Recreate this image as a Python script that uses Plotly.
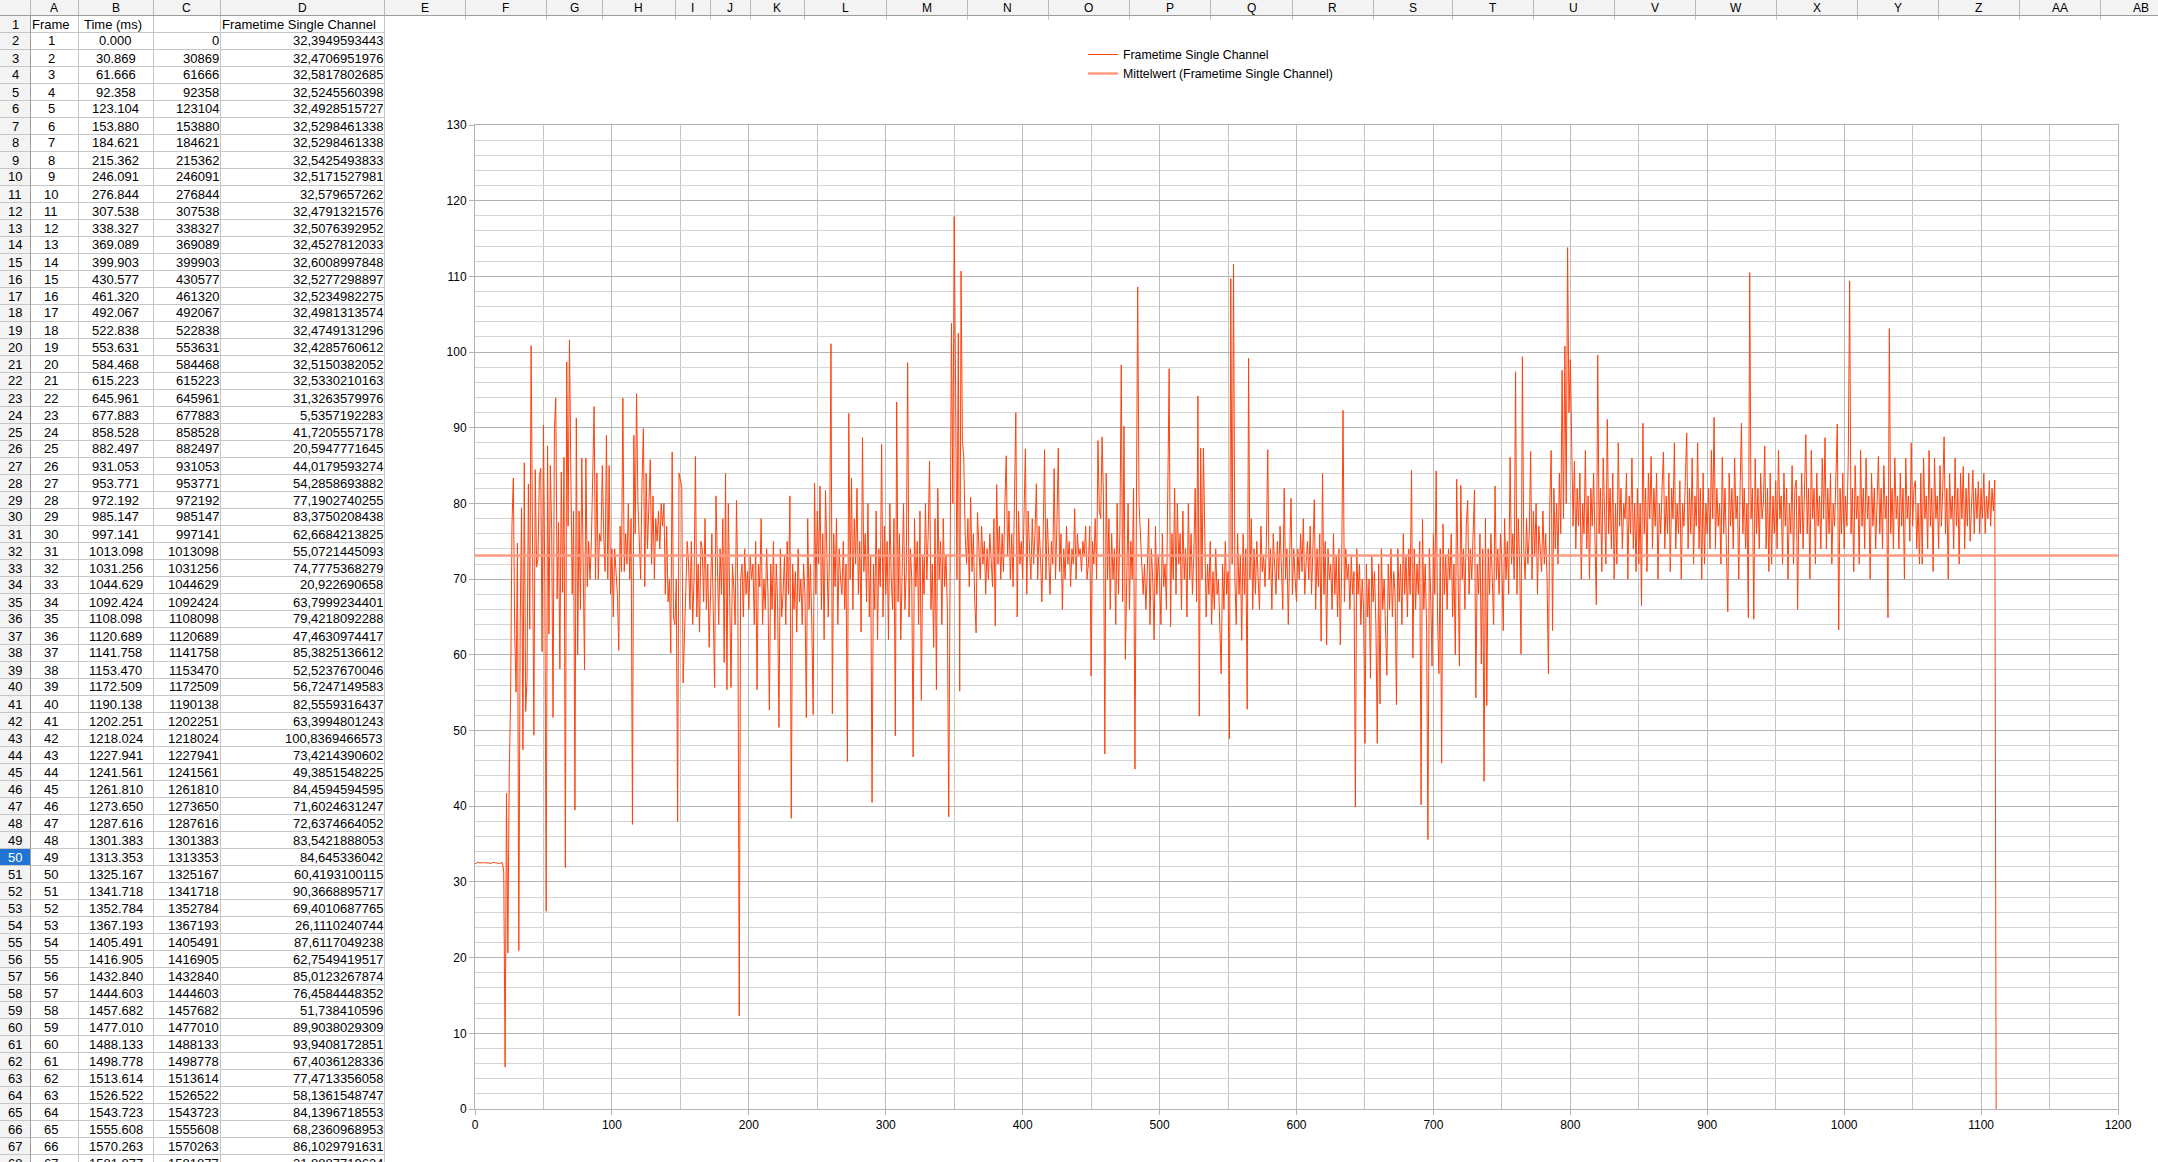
import plotly.graph_objects as go
import numpy as np

FONT = "Liberation Sans, Arial, sans-serif"

# ---------------- data ----------------
COL_LETTERS = ["A", "B", "C", "D", "E", "F", "G", "H", "I", "J", "K", "L", "M", "N",
               "O", "P", "Q", "R", "S", "T", "U", "V", "W", "X", "Y", "Z", "AA", "AB"]
HEADER_ROW = ["Frame", "Time (ms)", "", "Frametime Single Channel"]

TIME_MS = ["0.000", "30.869", "61.666", "92.358", "123.104", "153.880", "184.621", "215.362",
           "246.091", "276.844", "307.538", "338.327", "369.089", "399.903", "430.577", "461.320",
           "492.067", "522.838", "553.631", "584.468", "615.223", "645.961", "677.883", "858.528",
           "882.497", "931.053", "953.771", "972.192", "985.147", "997.141", "1013.098", "1031.256",
           "1044.629", "1092.424", "1108.098", "1120.689", "1141.758", "1153.470", "1172.509",
           "1190.138", "1202.251", "1218.024", "1227.941", "1241.561", "1261.810", "1273.650",
           "1287.616", "1301.383", "1313.353", "1325.167", "1341.718", "1352.784", "1367.193",
           "1405.491", "1416.905", "1432.840", "1444.603", "1457.682", "1477.010", "1488.133",
           "1498.778", "1513.614", "1526.522", "1543.723", "1555.608", "1570.263", "1581.877"]

FRAMETIME = [
    32.3949593443, 32.4706951976, 32.5817802685, 32.5245560398, 32.4928515727, 32.5298461338,
    32.5298461338, 32.5425493833, 32.5171527981, 32.579657262, 32.4791321576, 32.5076392952,
    32.4527812033, 32.6008997848, 32.5277298897, 32.5234982275, 32.4981313574, 32.4749131296,
    32.4285760612, 32.5150382052, 32.5330210163, 31.3263579976, 5.5357192283, 41.7205557178,
    20.5947771645, 44.0179593274, 54.2858693882, 77.1902740255, 83.3750208438, 62.6684213825,
    55.0721445093, 74.7775368279, 20.922690658, 63.7999234401, 79.4218092288, 47.4630974417,
    85.3825136612, 52.5237670046, 56.7247149583, 82.5559316437, 63.3994801243, 100.8369466573,
    73.4214390602, 49.3851548225, 84.4594594595, 71.6024631247, 72.6374664052, 83.5421888053,
    84.645336042, 60.4193100115, 90.3668895717, 69.4010687765, 26.1110240744, 87.6117049238,
    62.7549419517, 85.0123267874, 76.4584448352, 51.738410596, 89.9038029309, 93.9408172851,
    67.4036128336, 77.4713356058, 58.1361548747, 84.1396718553, 68.2360968953, 86.1029791631,
    31.8887719634,
    98.7, 77, 101.6,
    84, 68, 79, 39.5, 91.3, 60, 79, 66, 86, 70,
    58, 86, 69, 75, 70, 75, 83, 92.8, 70, 84,
    70, 76, 75, 85, 76, 71, 89, 70, 85, 68,
    74, 65, 74, 70, 68, 60.6, 77, 71, 93.9, 71,
    76, 72, 80, 70, 78, 37.6, 89, 76, 94.5, 80,
    75, 70, 83, 89.9, 69, 84, 74, 80, 85.8, 72,
    81, 70, 78, 75, 79, 74, 80, 77, 80, 68,
    77, 67, 70, 60.2, 86.8, 65, 64, 70, 38, 84,
    83, 82.2, 56.3, 62, 67, 75, 72, 66, 75, 64,
    70, 86.2, 65, 72, 63, 75, 74, 67, 78, 66,
    72, 61, 68, 76, 66, 55.7, 81, 70, 64, 74,
    68, 78, 59, 84, 55.4, 80, 65, 55.7, 72, 69,
    64, 80.4, 68, 12.3, 70, 72, 65, 74, 68, 71,
    66, 73, 70, 72, 64, 75, 55.4, 72, 69, 78,
    64, 70, 66, 74, 68, 52.7, 72, 66, 75, 62,
    72, 67, 50.4, 74, 65, 68, 73, 64, 75, 68,
    81, 38.4, 72, 66, 71, 63, 74, 67, 70, 64,
    72, 68, 51.7, 78, 66, 72, 64, 52.1, 82.7, 68,
    79, 72, 82.3, 66, 76, 62, 81.7, 72, 65, 74,
    101.1, 52.2, 76, 69, 78, 64, 74, 70, 68, 75,
    66, 72, 45.9, 91.9, 70, 83.3, 66, 78, 72, 82,
    68, 75, 63, 88.7, 71, 76, 67, 80, 65, 73,
    40.5, 72, 66, 79, 62, 74, 69, 87.8, 65, 77,
    68, 75, 62, 80, 70, 66, 78, 49.3, 93.4, 67,
    76, 62, 72, 80, 66, 71, 98.6, 65, 74, 70,
    46.5, 78, 69, 75, 64, 79, 54, 73, 68, 80,
    70, 76, 85.6, 66, 72, 61, 78, 55.4, 82, 70,
    75, 64, 78, 69, 73, 66, 38.6, 79, 103.8, 80,
    117.9, 95.3, 70, 102.5, 55.2, 110.7, 88.3, 86, 76, 72,
    78, 69, 80.8, 71, 76, 67, 62.9, 78.8, 74, 70,
    77, 72, 75, 68, 74, 70, 76, 72, 69, 78,
    63.8, 82.5, 72, 77, 70, 76, 71, 80, 86.3, 73,
    79, 70, 76, 69, 81, 92.0, 65, 79, 72, 75,
    70, 77, 87.2, 68, 79, 74, 70, 78, 72, 76,
    82.6, 70, 77, 73, 67, 76, 87.1, 70, 78, 73,
    68, 75, 72, 84.6, 70, 77, 87.3, 71, 76, 66,
    74, 70, 77, 72, 75, 69, 74, 72, 79.3, 70,
    76, 73, 74, 71, 75, 73, 77, 70, 72, 77,
    57.2, 75, 72, 78, 70, 88.3, 79, 78, 88.8, 81,
    46.9, 84, 70, 78, 66, 76, 70, 74, 64, 80,
    68, 76, 98.3, 67, 90.2, 59.4, 72, 80, 66, 75,
    70, 82, 44.9, 79, 108.6, 80, 76, 74, 68, 72,
    66, 71, 78, 64, 74, 70, 62, 77, 68, 73,
    70, 64, 76, 69, 72, 66, 79, 97.8, 63.7, 76,
    70, 82, 68, 80, 72, 76, 66, 79, 70, 74,
    65, 80, 70, 76, 68, 73, 82, 67, 94.2, 51.9,
    87.3, 70, 87.3, 75, 65, 72, 68, 75, 64, 71,
    66, 74, 68, 70, 62, 57.5, 72, 66, 75, 68,
    71, 48.9, 109.7, 72, 111.6, 70, 64, 76, 68, 73,
    61.9, 76, 68, 74, 52.8, 99.2, 70, 78, 66, 74,
    68, 75, 70, 66, 77, 71, 73, 69, 75, 87.1,
    70, 74, 66, 76, 72, 68, 75, 70, 77, 72,
    66, 82.0, 70, 74, 64, 73, 80.7, 68, 74, 70,
    67, 74, 70, 76, 71, 78, 68, 72, 75, 70,
    77, 68, 74, 80.5, 66, 74, 69, 76, 61.8, 84.0,
    68, 75, 61.3, 74, 70, 72, 66, 76, 68, 73,
    65, 74, 61.3, 72, 92.3, 67, 74, 70, 72, 66,
    73, 68, 71, 39.9, 74, 68, 72, 64, 70, 66,
    48.3, 72, 65, 70, 56.9, 73, 67, 71, 64, 48.3,
    72, 53.5, 74, 66, 70, 63, 57.3, 72, 66, 74,
    65, 71, 68, 53.4, 74, 67, 72, 64, 76, 68,
    73, 65, 74, 68, 84.4, 59.6, 74, 66, 72, 68,
    75, 40.2, 77.9, 66, 72, 64, 35.6, 74, 68, 58.5,
    76, 68, 84.3, 65, 57.5, 74, 45.7, 77.3, 68, 73,
    66, 74, 70, 76, 65, 72, 60.0, 83.2, 68, 58.5,
    82.4, 70, 74, 66, 77, 80.4, 68, 74, 70, 76,
    81.8, 54.3, 72, 68, 76, 58.8, 74, 43.3, 78, 53.3,
    74, 68, 76, 70, 64, 82.3, 70, 74, 68, 76,
    72, 63.2, 78, 70, 75, 68, 86.1, 72, 76, 70,
    97.4, 68, 78, 72, 60.1, 99.4, 74, 70, 78, 72,
    76, 86.9, 70, 79, 73, 80, 68, 77, 74, 71,
    79, 72, 76, 70, 57.5, 80, 87.0, 63.2, 82, 74,
    80, 72, 84, 76, 97.6, 78, 100.8, 80, 113.8, 92,
    99.0, 84, 77, 85.6, 74, 82, 77, 84, 70, 80,
    76, 87, 74, 81, 70, 82, 77, 84, 74, 66.6,
    99.6, 76, 82, 71, 86, 78, 72, 91.1, 76, 82,
    74, 84, 70, 80, 72, 88, 77, 82, 74, 80,
    78, 84, 70, 81, 76, 86, 74, 80, 71, 82,
    72, 80, 66.5, 90.6, 76, 82, 71, 84, 78, 86.2,
    74, 82, 77, 84, 70, 80, 76, 82, 86.8, 74,
    81, 76, 84, 71, 82, 78, 88, 74, 80, 76,
    83, 70, 80, 77, 82, 89.3, 74, 82, 76, 86,
    72, 81, 77, 88.0, 74, 82, 70, 84, 72, 80,
    76, 82, 74, 87, 78, 91.4, 74, 82, 77, 80,
    72, 86.1, 76, 82, 74, 65.7, 84, 77, 82, 74,
    86, 78, 81, 70, 82, 90.6, 76, 82, 74, 80,
    64.9, 110.5, 78, 82, 64.7, 85.9, 76, 82, 74, 84,
    78, 80, 87.6, 74, 82, 71, 84, 72, 81, 76,
    83, 74, 87, 78, 81, 72, 84, 77, 82, 70,
    80, 76, 85, 72, 82, 83.1, 66, 81, 76, 84,
    74, 80, 89.1, 76, 82, 70, 87, 78, 82, 72,
    84, 77, 81, 74, 86, 78, 88.7, 74, 82, 76,
    84, 72, 80, 77, 83, 90.5, 63.3, 82, 76, 84,
    74, 81, 77, 86, 109.4, 76, 82, 71, 85, 78,
    81, 72, 87, 77, 82, 74, 86, 78, 81, 70,
    84, 77, 82, 74, 80, 86.2, 76, 82, 74, 85,
    78, 81, 64.9, 103.1, 76, 82, 74, 86, 78, 81,
    74, 84, 77, 82, 70, 86, 78, 81, 75, 88,
    77, 82, 83.0, 74, 80, 72, 84, 72, 86, 78,
    81, 74, 87, 77, 82, 71, 86, 78, 81, 74,
    85, 77, 82, 88.8, 76, 82, 70, 84, 78, 81,
    74, 86, 77, 82, 72, 84, 78, 84.9, 74, 82,
    77, 84, 75, 81, 84.4, 76, 82, 78, 82.9, 76,
    82, 78, 84, 76, 81, 78, 83, 77, 82, 79,
    83.1, 0,
]

X_RANGE = [0, 1200]
Y_RANGE = [0, 130]

# ---------------- layout constants (pixels) ----------------
W, H = 2158, 1162
COL_EDGES = [30, 78, 153, 220, 384, 465, 546, 602, 675, 710, 750, 804, 886, 967, 1048, 1129,
             1210, 1292, 1373, 1452, 1533, 1614, 1695, 1776, 1857, 1938, 2019, 2100, 2181]
HDR_H = 15
ROW_H = 17
N_ROWS_SHOWN = 68
CHART_TOP = 20
PLOT_L, PLOT_R, PLOT_T, PLOT_B = 475, 2118, 125, 1109
SELECTED_ROW = 50


def px(x):
    return x / W


def py(y):
    return 1 - y / H


shapes = []


def line(x0, y0, x1, y1, color, width=1):
    shapes.append(dict(type="line", xref="paper", yref="paper", x0=px(x0), y0=py(y0),
                       x1=px(x1), y1=py(y1), line=dict(color=color, width=width), layer="below"))


def rect(x0, y0, x1, y1, fill):
    shapes.append(dict(type="rect", xref="paper", yref="paper", x0=px(x0), y0=py(y0),
                       x1=px(x1), y1=py(y1), fillcolor=fill, line=dict(width=0), layer="below"))


# sheet backgrounds
rect(0, 0, W, HDR_H, "#f3f3f3")
rect(0, HDR_H, COL_EDGES[0], H, "#f3f3f3")
sel_top = HDR_H + ROW_H * (SELECTED_ROW - 1)
rect(0, sel_top, COL_EDGES[0], sel_top + ROW_H, "#1f74d4")

# cell grid lines in columns A-D
for k in range(1, N_ROWS_SHOWN + 1):
    y = HDR_H + ROW_H * k + 0.5
    line(0, y, COL_EDGES[4], y, "#c6c6c6")
for xe in COL_EDGES[1:5]:
    line(xe + 0.5, HDR_H, xe + 0.5, H, "#c6c6c6")
# short visible column borders above the chart (row 1 strip)
for xe in COL_EDGES[5:]:
    line(xe + 0.5, HDR_H, xe + 0.5, CHART_TOP, "#c6c6c6")
# header separators
for xe in COL_EDGES:
    line(xe + 0.5, 0, xe + 0.5, HDR_H, "#b8b8b8")
line(0, HDR_H + 0.5, W, HDR_H + 0.5, "#9c9c9c")
line(COL_EDGES[0] + 0.5, HDR_H, COL_EDGES[0] + 0.5, H, "#9c9c9c")

annotations = []


def text(x, y, s, anchor, size=13, color="#000000"):
    annotations.append(dict(x=px(x), y=py(y), xref="paper", yref="paper", text=s,
                            showarrow=False, xanchor=anchor, yanchor="middle",
                            borderpad=0, borderwidth=0,
                            font=dict(family=FONT, size=size, color=color)))


# column letters
for i, letter in enumerate(COL_LETTERS):
    cx = (COL_EDGES[i] + COL_EDGES[i + 1]) / 2
    text(cx, HDR_H / 2 + 0.5, letter, "center", size=12)

# row numbers
for r in range(1, N_ROWS_SHOWN + 1):
    cy = HDR_H + ROW_H * (r - 1) + ROW_H / 2 + 0.5
    col = "#ffffff" if r == SELECTED_ROW else "#000000"
    text(15, cy, str(r), "center", color=col)

# row 1 headers
cy1 = HDR_H + ROW_H / 2 + 0.5
text(32, cy1, HEADER_ROW[0], "left")
text(84, cy1, HEADER_ROW[1], "left")
text(222, cy1, HEADER_ROW[3], "left")


def fmt_de(v):
    s = f"{v:.10f}".rstrip("0").rstrip(".")
    return s.replace(".", ",")


for i, t in enumerate(TIME_MS):
    r = i + 2
    cy = HDR_H + ROW_H * (r - 1) + ROW_H / 2 + 0.5
    text(51, cy, str(i + 1), "center")
    text(115.5, cy, t, "center")
    text(218.5, cy, str(int(round(float(t) * 1000))), "right")
    text(382.5, cy, fmt_de(FRAMETIME[i]), "right")

# ---------------- chart ----------------
x_idx = np.arange(len(FRAMETIME))
y_vals = np.array(FRAMETIME, dtype=float)
mean_val = float(np.mean(y_vals))

fig = go.Figure()
fig.add_trace(go.Scatter(x=x_idx, y=y_vals, mode="lines", name="Frametime Single Channel",
                         line=dict(color="#ff420e", width=1)))
fig.add_trace(go.Scatter(x=X_RANGE, y=[mean_val, mean_val], mode="lines",
                         name="Mittelwert (Frametime Single Channel)",
                         line=dict(color="#ff9a80", width=2.5)))

axis_font = dict(family=FONT, size=12, color="#000000")
fig.update_layout(
    width=W, height=H, autosize=False,
    margin=dict(l=0, r=0, t=0, b=0, pad=0, autoexpand=False),
    paper_bgcolor="#ffffff", plot_bgcolor="rgba(0,0,0,0)",
    shapes=shapes, annotations=annotations,
    showlegend=True,
    legend=dict(x=px(1083), y=py(40), xanchor="left", yanchor="top",
                bgcolor="rgba(0,0,0,0)", borderwidth=0, itemwidth=30,
                font=dict(family=FONT, size=12.3, color="#000000"), tracegroupgap=0),
    xaxis=dict(domain=[px(PLOT_L), px(PLOT_R)], range=X_RANGE, tick0=0, dtick=100,
               showgrid=True, gridcolor="#bdbdbd", gridwidth=1,
               minor=dict(dtick=50, showgrid=True, gridcolor="#c4c4c4", gridwidth=1),
               showline=True, linecolor="#b3b3b3", linewidth=1, mirror=True,
               ticks="outside", ticklen=5, tickcolor="#b3b3b3", zeroline=False,
               tickfont=axis_font, fixedrange=True, automargin=False),
    yaxis=dict(domain=[py(PLOT_B), py(PLOT_T)], range=Y_RANGE, tick0=0, dtick=10,
               showgrid=True, gridcolor="#b3b3b3", gridwidth=1,
               minor=dict(dtick=2, showgrid=True, gridcolor="#d4d4d4", gridwidth=1),
               showline=True, linecolor="#b3b3b3", linewidth=1, mirror=True,
               ticks="outside", ticklen=5, tickcolor="#b3b3b3", zeroline=False,
               tickfont=axis_font, fixedrange=True, automargin=False),
)

fig.write_html("out.html", config={"displayModeBar": False},
               post_script="document.body.style.margin='0';document.body.style.overflow='hidden';")
